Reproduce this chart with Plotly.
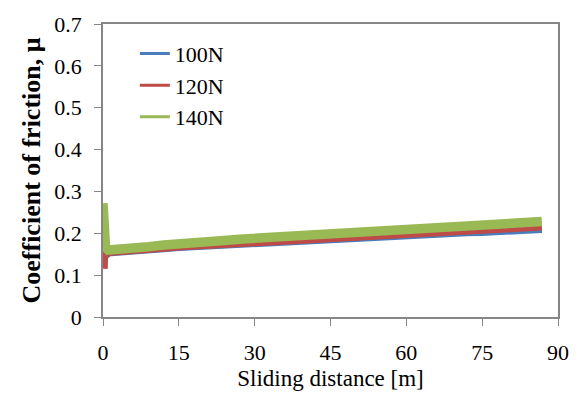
import plotly.graph_objects as go

# Sliding distance [m] sample positions and coefficient of friction values
dist = [0, 0.15, 0.5, 1, 3, 6, 9, 12, 15, 18, 21, 24, 27, 30, 33, 36, 39, 42, 45, 48, 51,
        54, 57, 60, 63, 66, 69, 72, 75, 78, 81, 84, 86.8]
mu_140 = [0.272, 0.20, 0.166, 0.160, 0.161, 0.164, 0.168, 0.172, 0.176, 0.178, 0.181, 0.183,
          0.186, 0.188, 0.190, 0.193, 0.195, 0.196, 0.198, 0.200, 0.202, 0.204, 0.205, 0.207,
          0.209, 0.211, 0.213, 0.215, 0.217, 0.220, 0.222, 0.225, 0.228]
mu_120 = [0.115, 0.19, 0.150, 0.157, 0.158, 0.161, 0.164, 0.167, 0.170, 0.172, 0.175, 0.177,
          0.180, 0.182, 0.184, 0.187, 0.189, 0.190, 0.192, 0.194, 0.196, 0.198, 0.199, 0.201,
          0.203, 0.204, 0.206, 0.208, 0.210, 0.211, 0.213, 0.215, 0.218]
mu_100 = [0.135, 0.16, 0.150, 0.156, 0.157, 0.160, 0.163, 0.166, 0.169, 0.171, 0.173, 0.175,
          0.178, 0.180, 0.182, 0.185, 0.187, 0.188, 0.190, 0.192, 0.193, 0.195, 0.196, 0.198,
          0.199, 0.201, 0.202, 0.204, 0.205, 0.206, 0.208, 0.210, 0.212]

labels = ["100N", "120N", "140N"]
series = [mu_100, mu_120, mu_140]
colors = ["#4a7ebb", "#be4b48", "#98b954"]

x_ticks = [0, 15, 30, 45, 60, 75, 90]
y_ticks = [0, 0.1, 0.2, 0.3, 0.4, 0.5, 0.6, 0.7]
y_tick_text = ["0", "0.1", "0.2", "0.3", "0.4", "0.5", "0.6", "0.7"]

fig = go.Figure()
for lab, ys, c in zip(labels, series, colors):
    fig.add_trace(go.Scatter(x=dist, y=ys, mode="lines", line=dict(color=c, width=9.5),
                             showlegend=False, hoverinfo="skip", name=lab))
for lab, c in zip(labels, colors):
    fig.add_trace(go.Scatter(x=[None], y=[None], mode="lines", line=dict(color=c, width=3),
                             name=lab, legendgroup=lab))

font_family = "Liberation Serif"
fig.update_layout(
    width=581, height=403,
    margin=dict(l=103, r=18, t=21, b=86),
    paper_bgcolor="white", plot_bgcolor="white",
    font=dict(family=font_family, color="black", size=22),
    legend=dict(x=0.07, y=0.97, xanchor="left", yanchor="top", bgcolor="rgba(0,0,0,0)",
                font=dict(size=22, family=font_family), tracegroupgap=0),
    xaxis=dict(range=[0, 90], tickvals=x_ticks, ticks="outside", ticklen=7, tickcolor="#868686",
               showline=True, linecolor="#868686", linewidth=1.5, mirror=True, showgrid=False,
               zeroline=False, tickfont=dict(size=22, family=font_family), ticklabelstandoff=8,
               title=dict(text="Sliding distance [m]", font=dict(size=23, family=font_family), standoff=6)),
    yaxis=dict(range=[0, 0.7], tickvals=y_ticks, ticktext=y_tick_text,
               ticks="outside", ticklen=7, tickcolor="#868686",
               showline=True, linecolor="#868686", linewidth=1.5, mirror=True, showgrid=False,
               zeroline=False, tickfont=dict(size=22, family=font_family), ticklabelstandoff=8,
               title=dict(text="<b>Coefficient of friction, μ</b>",
                          font=dict(size=26, family=font_family), standoff=6)),
)

fig.write_html("out.html")
